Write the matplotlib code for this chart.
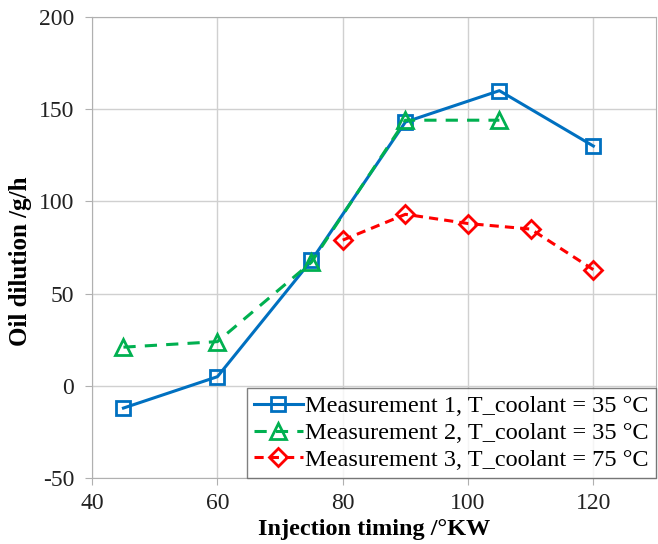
import matplotlib
matplotlib.use("Agg")
import matplotlib.pyplot as plt

x1 = [45, 60, 75, 90, 105, 120]
y1 = [-12, 5, 68, 143, 160, 130]
x2 = [45, 60, 75, 90, 105]
y2 = [21, 24, 67, 144, 144]
x3 = [80, 90, 100, 110, 120]
y3 = [79, 93, 88, 85, 63]
labels = ["Measurement 1, T_coolant = 35 °C",
          "Measurement 2, T_coolant = 35 °C",
          "Measurement 3, T_coolant = 75 °C"]
xticks = [40, 60, 80, 100, 120]
yticks = [-50, 0, 50, 100, 150, 200]

plt.rcParams['font.family'] = ['Liberation Serif', 'DejaVu Serif']
plt.rcParams['axes.unicode_minus'] = False
fig = plt.figure(figsize=(6.58, 5.44), dpi=100)
ax = fig.add_axes([0.14, 0.121, 0.857, 0.848])

ax.plot(x1, y1, color='#0070C0', lw=2.2, marker='s', ms=10, mfc='none', mew=2, label=labels[0], zorder=3)
ax.plot(x2, y2, color='#00B050', lw=2.2, ls=(0, (4, 3)), marker='^', ms=11, mfc='none', mew=2, label=labels[1], zorder=3)
ax.plot(x3, y3, color='#FF0000', lw=2.2, ls=(0, (3, 2)), marker='D', ms=9, mfc='none', mew=2, label=labels[2], zorder=3)

ax.set_xlim(40, 130)
ax.set_ylim(-50, 200)
ax.set_xticks(xticks)
ax.set_yticks(yticks)
ax.grid(True, color='#d0d0d0', lw=1)
ax.set_axisbelow(True)
for s in ax.spines.values():
    s.set_color('#b0b0b0')
ax.tick_params(axis='both', labelsize=17, length=5, color='#b0b0b0', labelcolor='#222222')
ax.tick_params(axis='y', pad=8)
ax.tick_params(axis='x', pad=6)
ax.set_xlabel('Injection timing /°KW', fontsize=17.5, fontweight='bold', labelpad=3)
ax.set_ylabel('Oil dilution /g/h', fontsize=18, fontweight='bold', labelpad=0)
ax.yaxis.set_label_coords(-0.107, 0.47)

leg = ax.legend(loc='lower right', fontsize=17.5, frameon=True, fancybox=False,
                edgecolor='#606060', handlelength=2, handletextpad=0.1,
                borderaxespad=0.0, borderpad=0.3, labelspacing=0.2)
leg.get_frame().set_linewidth(1)

fig.savefig('out.png', dpi=100)
